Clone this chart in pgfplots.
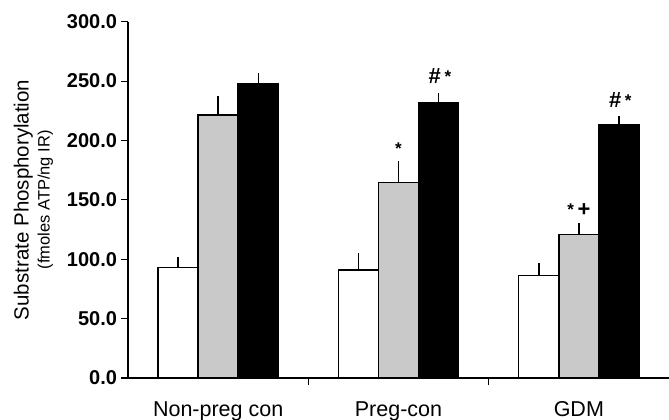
\documentclass[border=0pt]{standalone}
\usepackage{fontspec}
\setmainfont{Liberation Sans}
\usepackage{pgfplots}
\pgfplotsset{compat=1.18}
\begin{document}
\begin{tikzpicture}
\begin{axis}[
  scale only axis, width=541pt, height=356.3pt,
  xmin=-0.5, xmax=2.5, ymin=0, ymax=300,
  axis x line*=bottom, axis y line*=left,
  axis line style={-, line width=1.1pt, black},
  ytick={0,50,100,150,200,250,300},
  yticklabel={\pgfmathprintnumber[fixed,fixed zerofill,precision=1,assume math mode=true]{\tick}},
  yticklabel style={font=\fontsize{20}{23}\selectfont\bfseries, xshift=-1pt},
  xtick={0.5,1.5}, xticklabels={,,},
  extra x ticks={0,1,2},
  extra x tick labels={Non-preg con, Preg-con, GDM},
  extra x tick style={major tick length=0pt},
  xticklabel style={font=\fontsize{21.5}{24}\selectfont, yshift=-20pt},
  tick align=outside, major tick length=6.5pt,
  tick style={line width=1.1pt, black},
  ylabel={\fontsize{20.5}{20}\selectfont Substrate Phosphorylation\\[4pt]\fontsize{16.5}{16}\selectfont (fmoles ATP/ng IR)},
  ylabel style={at={(axis description cs:-0.138,0.5)}, anchor=south, align=center, inner sep=0pt},
  clip=false,
]
\addplot[ybar, bar width=0.222, bar shift=0pt, fill=white, draw=black, line width=1.4pt,
  error bars/.cd, y dir=plus, y explicit, error mark=-,
  error bar style={line width=1.4pt, black},
  error mark options={line width=1.4pt, mark size=4pt, black}]
  table[x=x, y=y, y error=e] {
x      y      e
-0.222 93.2   5.0
0.778  90.9   10.7
1.778  86.1   7.1
};
\addplot[ybar, bar width=0.222, bar shift=0pt, fill=black!21, draw=black, line width=1.4pt,
  error bars/.cd, y dir=plus, y explicit, error mark=-,
  error bar style={line width=1.4pt, black},
  error mark options={line width=1.4pt, mark size=4pt, black}]
  table[x=x, y=y, y error=e] {
x      y      e
0      221.4  12.6
1      164.4  14.9
2      120.6  6.2
};
\addplot[ybar, bar width=0.222, bar shift=0pt, fill=black, draw=black, line width=1.4pt,
  error bars/.cd, y dir=plus, y explicit, error mark=-,
  error bar style={line width=1.4pt, black},
  error mark options={line width=1.4pt, mark size=4pt, black}]
  table[x=x, y=y, y error=e] {
x      y      e
0.222  248.0  5.6
1.222  232.0  4.8
2.222  213.5  3.7
};
\node[font=\fontsize{17}{17}\selectfont\bfseries] at (axis cs:1.0,193) {*};
\node[font=\fontsize{22}{22}\selectfont\bfseries] at (axis cs:1.23,254) {\#\,\raisebox{1pt}{\fontsize{17}{17}\selectfont *}};
\node[font=\fontsize{22}{22}\selectfont\bfseries] at (axis cs:2.0,141) {\raisebox{1pt}{\fontsize{17}{17}\selectfont *}\,+};
\node[font=\fontsize{22}{22}\selectfont\bfseries] at (axis cs:2.23,234) {\#\,\raisebox{1pt}{\fontsize{17}{17}\selectfont *}};
\end{axis}
\pgfresetboundingbox
\path ([shift={(-128pt,-42pt)}]current axis.south west) rectangle ([shift={(0pt,21.7pt)}]current axis.north east);
\end{tikzpicture}
\end{document}
